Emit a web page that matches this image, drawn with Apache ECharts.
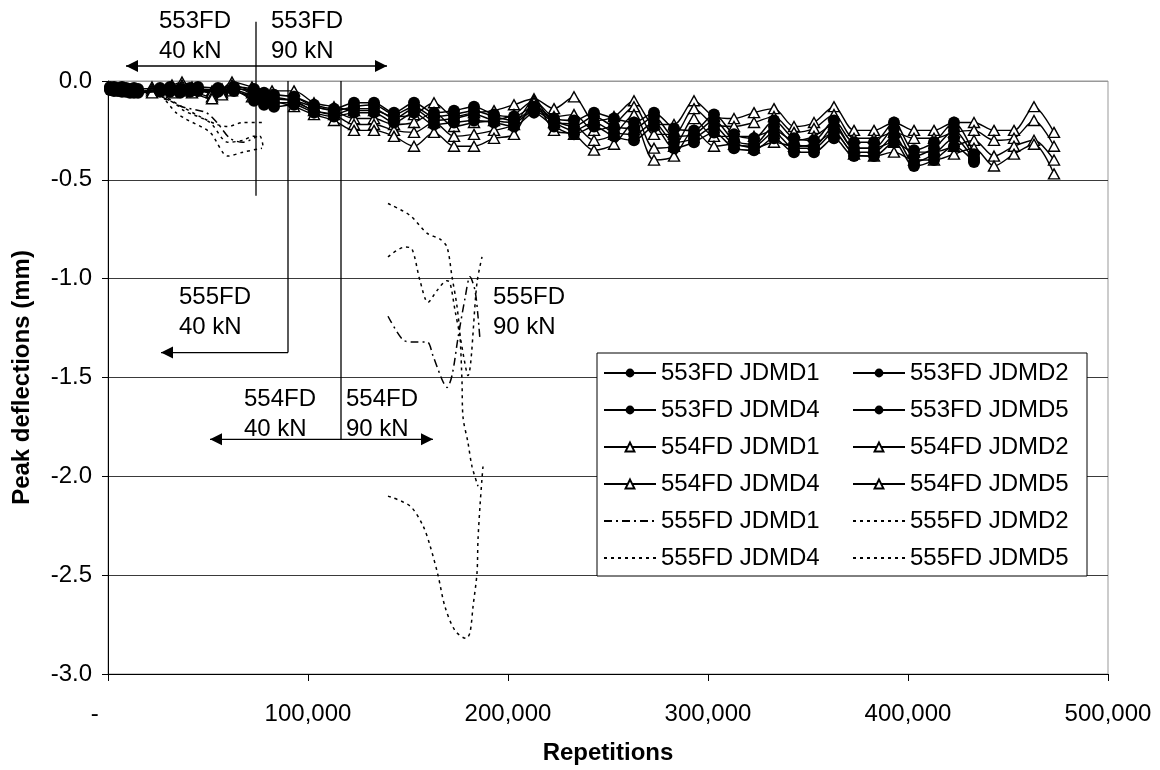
<!DOCTYPE html>
<html>
<head>
<meta charset="utf-8">
<title>Peak deflections</title>
<script src="https://cdn.jsdelivr.net/npm/echarts@6/dist/echarts.min.js"></script>
<style>
html, body { margin: 0; padding: 0; background: #fff; }
#chart { width: 1160px; height: 770px; }
</style>
</head>
<body>
<div id="chart"></div>
<script>
// ---- values ----
var reps553 = [1000, 3000, 5000, 7000, 9000, 11000, 13000, 15000, 26000, 31000, 36000, 41000, 45000, 55000, 63000, 73000, 78000, 83000,
    93000, 103000, 113000, 123000, 133000, 143000, 153000, 163000, 173000, 183000, 193000, 203000, 213000, 223000, 233000, 243000,
    253000, 263000, 273000, 283000, 293000, 303000, 313000, 323000, 333000, 343000, 353000, 363000, 373000, 383000, 393000, 403000,
    413000, 423000, 433000];
var fd553_1 = [-0.03, -0.03, -0.035, -0.03, -0.035, -0.04, -0.035, -0.04, -0.035, -0.03, -0.04, -0.035, -0.03, -0.035, -0.03, -0.04, -0.06, -0.07,
    -0.08, -0.12, -0.14, -0.11, -0.11, -0.16, -0.11, -0.16, -0.15, -0.13, -0.17, -0.18, -0.13, -0.19, -0.20, -0.16,
    -0.19, -0.21, -0.16, -0.24, -0.25, -0.17, -0.27, -0.29, -0.20, -0.29, -0.30, -0.20, -0.31, -0.31, -0.21, -0.35,
    -0.31, -0.21, -0.37];
var fd553_2 = [-0.035, -0.04, -0.04, -0.045, -0.04, -0.045, -0.045, -0.05, -0.045, -0.04, -0.05, -0.045, -0.04, -0.045, -0.04, -0.05, -0.08, -0.09,
    -0.10, -0.13, -0.15, -0.13, -0.12, -0.17, -0.13, -0.18, -0.17, -0.15, -0.18, -0.20, -0.14, -0.20, -0.23, -0.18,
    -0.23, -0.24, -0.18, -0.28, -0.27, -0.20, -0.30, -0.32, -0.23, -0.32, -0.33, -0.23, -0.34, -0.34, -0.24, -0.38,
    -0.34, -0.25, -0.39];
var fd553_4 = [-0.04, -0.045, -0.045, -0.05, -0.05, -0.05, -0.055, -0.055, -0.05, -0.05, -0.055, -0.05, -0.045, -0.05, -0.045, -0.08, -0.10, -0.11,
    -0.11, -0.15, -0.17, -0.14, -0.14, -0.19, -0.14, -0.20, -0.19, -0.17, -0.20, -0.21, -0.15, -0.21, -0.25, -0.21,
    -0.26, -0.27, -0.21, -0.31, -0.29, -0.23, -0.32, -0.33, -0.26, -0.34, -0.34, -0.26, -0.36, -0.36, -0.28, -0.41,
    -0.37, -0.29, -0.40];
var fd553_5 = [-0.045, -0.05, -0.05, -0.055, -0.055, -0.06, -0.06, -0.06, -0.055, -0.055, -0.06, -0.055, -0.05, -0.055, -0.05, -0.10, -0.12, -0.13,
    -0.12, -0.16, -0.18, -0.16, -0.16, -0.21, -0.16, -0.22, -0.21, -0.20, -0.21, -0.23, -0.16, -0.23, -0.27, -0.23,
    -0.28, -0.30, -0.23, -0.34, -0.31, -0.26, -0.34, -0.35, -0.29, -0.36, -0.36, -0.29, -0.38, -0.38, -0.31, -0.43,
    -0.40, -0.33, -0.41];

var reps554 = [22000, 32000, 37000, 42000, 52000, 57000, 62000, 72000, 82000,
    93000, 103000, 113000, 123000, 133000, 143000, 153000, 163000, 173000, 183000, 193000, 203000, 213000, 223000, 233000,
    243000, 253000, 263000, 273000, 283000, 293000, 303000, 313000, 323000, 333000, 343000, 353000, 363000, 373000, 383000,
    393000, 403000, 413000, 423000, 433000, 443000, 453000, 463000, 473000];
var fd554_1 = [-0.03, -0.02, -0.005, -0.03, -0.05, -0.04, -0.005, -0.03, -0.05,
    -0.05, -0.11, -0.13, -0.15, -0.15, -0.18, -0.17, -0.11, -0.18, -0.16, -0.15, -0.12, -0.09, -0.14, -0.08,
    -0.20, -0.18, -0.10, -0.22, -0.22, -0.10, -0.18, -0.19, -0.16, -0.14, -0.23, -0.21, -0.13, -0.25, -0.25,
    -0.21, -0.25, -0.25, -0.21, -0.21, -0.25, -0.25, -0.13, -0.26];
var fd554_2 = [-0.04, -0.04, -0.02, -0.04, -0.06, -0.05, -0.02, -0.05, -0.07,
    -0.08, -0.13, -0.15, -0.19, -0.19, -0.22, -0.21, -0.16, -0.23, -0.21, -0.20, -0.17, -0.10, -0.18, -0.17,
    -0.25, -0.22, -0.13, -0.27, -0.27, -0.14, -0.22, -0.23, -0.21, -0.18, -0.26, -0.24, -0.17, -0.29, -0.29,
    -0.26, -0.29, -0.29, -0.26, -0.25, -0.30, -0.29, -0.20, -0.33];
var fd554_4 = [-0.05, -0.05, -0.03, -0.05, -0.08, -0.06, -0.03, -0.06, -0.08,
    -0.10, -0.15, -0.17, -0.22, -0.22, -0.25, -0.26, -0.21, -0.28, -0.27, -0.25, -0.22, -0.10, -0.21, -0.22,
    -0.30, -0.27, -0.17, -0.34, -0.33, -0.19, -0.28, -0.28, -0.28, -0.25, -0.30, -0.28, -0.22, -0.34, -0.34,
    -0.31, -0.36, -0.36, -0.33, -0.30, -0.38, -0.33, -0.30, -0.40];
var fd554_5 = [-0.06, -0.06, -0.05, -0.06, -0.09, -0.07, -0.05, -0.08, -0.10,
    -0.13, -0.17, -0.20, -0.25, -0.25, -0.28, -0.33, -0.26, -0.33, -0.33, -0.29, -0.27, -0.11, -0.25, -0.27,
    -0.35, -0.32, -0.21, -0.40, -0.38, -0.25, -0.33, -0.32, -0.34, -0.31, -0.33, -0.32, -0.26, -0.37, -0.38,
    -0.36, -0.40, -0.40, -0.37, -0.34, -0.43, -0.37, -0.32, -0.47];

// 555FD: 40 kN run, a gap (null), then the 90 kN run
var reps555_1 = [27000, 31000, 37000, 49000, 54500, 61000, 67500, 74500, 110000,
    140000, 147500, 152500, 159500, 162500, 167000, 169500, 172000, 175000, 178500, 181000, 183500, 185000, 186000];
var fd555_1 = [-0.08, -0.10, -0.13, -0.16, -0.21, -0.29, -0.31, -0.28, null,
    -1.19, -1.31, -1.32, -1.32, -1.39, -1.51, -1.55, -1.49, -1.30, -1.10, -0.99, -1.06, -1.19, -1.31];
var reps555_2 = [27000, 32000, 37000, 46000, 54500, 60000, 67500, 77000, 110000,
    140000, 148500, 152000, 156000, 160000, 164500, 169500, 171000, 173500, 176000, 180000, 184500, 187000];
var fd555_2 = [-0.07, -0.10, -0.13, -0.18, -0.22, -0.23, -0.21, -0.21, null,
    -0.89, -0.84, -0.85, -1.01, -1.12, -1.06, -1.01, -1.02, -1.16, -1.29, -1.49, -1.02, -0.89];
var reps555_4 = [28000, 33000, 38000, 51000, 60000, 67500, 72500, 76000, 77500, 110000,
    140000, 151000, 159500, 166000, 169500, 172000, 174500, 176000, 177000, 177500, 180000, 182000, 185000];
var fd555_4 = [-0.09, -0.11, -0.15, -0.21, -0.31, -0.30, -0.28, -0.28, -0.33, null,
    -0.62, -0.68, -0.77, -0.80, -0.84, -0.99, -1.14, -1.29, -1.52, -1.70, -1.83, -1.95, -2.05];
var reps555_5 = [29000, 34000, 38500, 51000, 60000, 67500, 77000, 110000,
    140000, 151000, 157500, 161000, 165000, 168500, 173500, 179000, 181000, 182500, 184500, 185000, 186000, 187000, 187500];
var fd555_5 = [-0.10, -0.16, -0.19, -0.26, -0.38, -0.36, -0.34, null,
    -2.10, -2.15, -2.25, -2.35, -2.50, -2.66, -2.78, -2.82, -2.79, -2.66, -2.49, -2.32, -2.15, -2.01, -1.95];

var yTicks = [-3.0, -2.5, -2.0, -1.5, -1.0, -0.5, 0.0];

// load-change notes (data coords): x1, y1, x2, y2, head at start, head at end
var noteLines = [
    [74000, 0.30, 74000, -0.58, false, false],
    [9000, 0.076, 139500, 0.076, true, true],
    [90000, 0, 90000, -1.374, false, false],
    [90000, -1.374, 26500, -1.374, false, true],
    [116500, 0, 116500, -1.813, false, false],
    [51000, -1.813, 162500, -1.813, true, true]
];
// text, left x, centre of first line y
var noteTexts = [
    ['553FD\n40 kN', 25500, 0.303],
    ['553FD\n90 kN', 81500, 0.303],
    ['555FD\n40 kN', 35500, -1.096],
    ['555FD\n90 kN', 192500, -1.096],
    ['554FD\n40 kN', 68000, -1.611],
    ['554FD\n90 kN', 119000, -1.611]
];

var FONT = 'Liberation Sans, Arial, sans-serif';

function pairs(xs, ys) {
    return xs.map(function (x, i) { return [x, ys[i]]; });
}

// filled circles sit on top of the triangle runs, as in the original
function dotSeries(name, xs, ys) {
    return {
        name: name, type: 'line', smooth: 0.3, data: pairs(xs, ys), z: 4,
        symbol: 'circle', symbolSize: 12,
        itemStyle: { color: '#000' },
        lineStyle: { color: '#000', width: 1.5 }
    };
}

function triSeries(name, xs, ys) {
    return {
        name: name, type: 'line', smooth: 0.3, data: pairs(xs, ys), z: 3,
        symbol: 'triangle', symbolSize: [11, 10],
        itemStyle: { color: '#fff', borderColor: '#000', borderWidth: 1.4 },
        lineStyle: { color: '#000', width: 1.4 }
    };
}

function dashSeries(name, xs, ys, dash) {
    return {
        name: name, type: 'line', smooth: 0.3, data: pairs(xs, ys), z: 2,
        symbol: 'none', connectNulls: false,
        itemStyle: { color: '#000' },
        lineStyle: { color: '#000', width: 1.5, type: dash }
    };
}

var dotted = [3, 4];
var dashDot = [8, 4, 2, 4];

var series = [
    dotSeries('553FD JDMD1', reps553, fd553_1),
    dotSeries('553FD JDMD2', reps553, fd553_2),
    dotSeries('553FD JDMD4', reps553, fd553_4),
    dotSeries('553FD JDMD5', reps553, fd553_5),
    triSeries('554FD JDMD1', reps554, fd554_1),
    triSeries('554FD JDMD2', reps554, fd554_2),
    triSeries('554FD JDMD4', reps554, fd554_4),
    triSeries('554FD JDMD5', reps554, fd554_5),
    dashSeries('555FD JDMD1', reps555_1, fd555_1, dashDot),
    dashSeries('555FD JDMD2', reps555_2, fd555_2, dotted),
    dashSeries('555FD JDMD4', reps555_4, fd555_4, dotted),
    dashSeries('555FD JDMD5', reps555_5, fd555_5, dotted)
];

function legendItems(names) {
    return names.map(function (n) {
        // dashed series: line only, no symbol
        return n.indexOf('555') === 0 ? { name: n, itemStyle: { opacity: 0 } } : { name: n };
    });
}

var legendBase = {
    orient: 'vertical', top: 361, padding: 0, itemGap: 13,
    itemWidth: 52, itemHeight: 11, selectedMode: false,
    textStyle: { fontFamily: FONT, fontSize: 24, lineHeight: 24, color: '#000' }
};

var chart = echarts.init(document.getElementById('chart'), null, { renderer: 'canvas' });

chart.setOption({
    animation: false,
    backgroundColor: '#fff',
    grid: { left: 108, top: 81, width: 1000, height: 594, show: true, borderColor: '#999', borderWidth: 1 },
    xAxis: {
        type: 'value', min: 0, max: 500000, interval: 100000,
        name: 'Repetitions', nameLocation: 'middle', nameGap: 67,
        nameTextStyle: { fontFamily: FONT, fontSize: 24, fontWeight: 'bold', color: '#000' },
        axisLine: { onZero: false, lineStyle: { color: '#000', width: 1 } },
        axisTick: { show: true, length: 7, lineStyle: { color: '#000' } },
        axisLabel: {
            margin: 28, fontFamily: FONT, fontSize: 24, color: '#000',
            formatter: function (v) {
                return v === 0 ? '-\u00a0\u00a0\u00a0\u00a0' : v.toLocaleString('en-US');
            }
        },
        splitLine: { show: false }
    },
    yAxis: {
        type: 'value', min: yTicks[0], max: yTicks[yTicks.length - 1], interval: 0.5,
        name: 'Peak deflections (mm)', nameLocation: 'middle', nameGap: 74, nameRotate: 90,
        nameTextStyle: { fontFamily: FONT, fontSize: 24, fontWeight: 'bold', color: '#000' },
        axisLine: { lineStyle: { color: '#000', width: 1 } },
        axisTick: { show: true, length: 6, lineStyle: { color: '#000' } },
        axisLabel: {
            margin: 16, fontFamily: FONT, fontSize: 24, color: '#000',
            formatter: function (v) { return v.toFixed(1); }
        },
        splitLine: { show: true, lineStyle: { color: ['#000', '#3a3a3a', '#3a3a3a', '#3a3a3a', '#3a3a3a', '#3a3a3a', '#999'], width: 1 } }
    },
    legend: [
        Object.assign({}, legendBase, {
            left: 603,
            data: legendItems(['553FD JDMD1', '553FD JDMD4', '554FD JDMD1', '554FD JDMD4', '555FD JDMD1', '555FD JDMD4'])
        }),
        Object.assign({}, legendBase, {
            left: 852,
            data: legendItems(['553FD JDMD2', '553FD JDMD5', '554FD JDMD2', '554FD JDMD5', '555FD JDMD2', '555FD JDMD5'])
        })
    ],
    series: series
});

// notes drawn in data coordinates through the grid
function px(x, y) {
    return chart.convertToPixel({ gridIndex: 0 }, [x, y]);
}

function arrowHead(tip, from) {
    var dx = tip[0] - from[0], dy = tip[1] - from[1];
    var len = Math.sqrt(dx * dx + dy * dy) || 1;
    dx /= len; dy /= len;
    var L = 12, W = 6;
    return {
        type: 'polygon', z: 10,
        shape: { points: [tip, [tip[0] - dx * L - dy * W, tip[1] - dy * L + dx * W], [tip[0] - dx * L + dy * W, tip[1] - dy * L - dx * W]] },
        style: { fill: '#000' }
    };
}

var graphics = [{
    type: 'rect', z: 1,
    shape: { x: 597, y: 353, width: 490, height: 223 },
    style: { fill: '#fff', stroke: '#000', lineWidth: 1 }
}];

noteLines.forEach(function (n) {
    var a = px(n[0], n[1]), b = px(n[2], n[3]);
    graphics.push({
        type: 'line', z: 10,
        shape: { x1: a[0], y1: a[1], x2: b[0], y2: b[1] },
        style: { stroke: '#000', lineWidth: 1.3 }
    });
    if (n[4]) graphics.push(arrowHead(a, b));
    if (n[5]) graphics.push(arrowHead(b, a));
});

noteTexts.forEach(function (t) {
    var p = px(t[1], t[2]);
    graphics.push({
        type: 'text', z: 10, x: p[0], y: p[1] - 15,
        style: { text: t[0], fontFamily: FONT, fontSize: 24, lineHeight: 30, fill: '#000', verticalAlign: 'top', align: 'left' }
    });
});

chart.setOption({ graphic: graphics });
</script>
</body>
</html>
